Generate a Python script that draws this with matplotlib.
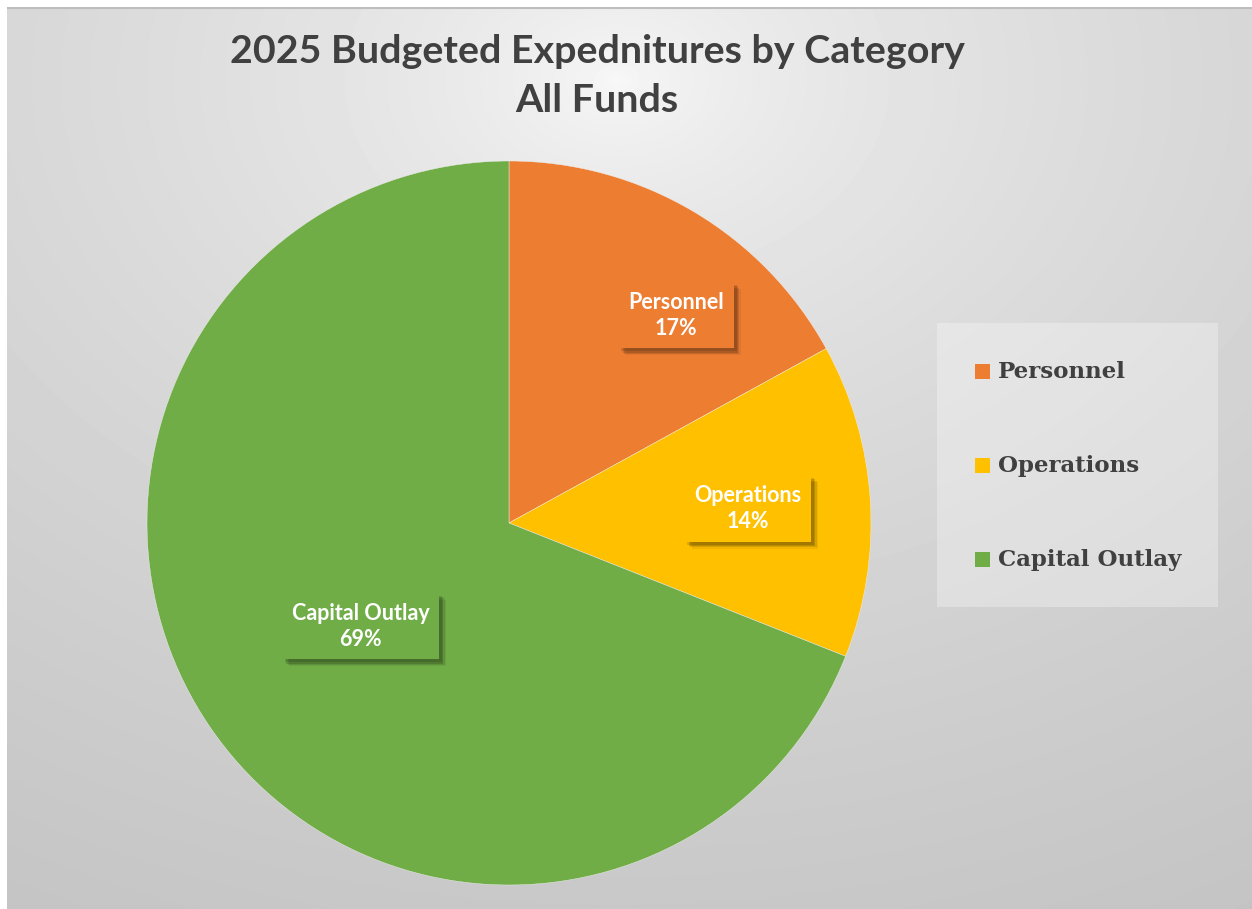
import matplotlib.pyplot as plt
import numpy as np
from matplotlib import patheffects
from matplotlib.patches import Rectangle

categories = ['Personnel', 'Operations', 'Capital Outlay']
shares = [17, 14, 69]
colors = ['#ED7D31', '#FFC000', '#70AD47']
title = '2025 Budgeted Expednitures by Category\nAll Funds'

# label centres in pie units (x, y), placed like the spreadsheet's best-fit
label_xy = [(0.462, 0.574), (0.66, 0.04), (-0.41, -0.285)]

W, H = 1252, 909
fig = plt.figure(figsize=(W / 100, H / 100), dpi=100, facecolor='white')

# soft radial backdrop
bg = fig.add_axes([7 / W, 0, 1 - 7 / W, 1 - 7 / H], zorder=0)
gx, gy = np.meshgrid(np.linspace(0, 1, 400), np.linspace(0, 1, 300))
r = np.sqrt((gx - 0.49) ** 2 + (gy - 0.08) ** 2)
shade = 0.975 - 0.2 * r ** 0.6
bg.imshow(shade, cmap='gray', vmin=0, vmax=1, extent=[0, 1, 1, 0], aspect='auto', interpolation='bilinear')
bg.plot([0, 1], [0.0015, 0.0015], color='#bdbdbd', lw=1.5)
bg.set_xlim(0, 1)
bg.set_ylim(1, 0)
bg.axis('off')

cx, cy, rad = 509, 523, 362
ax = fig.add_axes([(cx - rad) / W, (H - cy - rad) / H, 2 * rad / W, 2 * rad / H], zorder=1)
wedges, _ = ax.pie(shares, colors=colors, startangle=90, counterclock=False,
                   wedgeprops=dict(edgecolor='#f0f0f0', linewidth=0.3))
ax.set_xlim(-1, 1)
ax.set_ylim(-1, 1)
ax.set_aspect('auto')

# blurred drop shadow: stacked offsets with falling alpha
shadow = [patheffects.SimplePatchShadow(offset=(d, -d), shadow_rgbFace='black', alpha=a)
          for d, a in [(5, 0.06), (4, 0.1), (3, 0.14), (2, 0.12)]]

for name, val, col, (lx, ly) in zip(categories, shares, colors, label_xy):
    t = ax.text(lx, ly, f'{name}\n{val}%', ha='center', va='center', color='white',
                fontsize=15.5, fontweight='bold', family='Lato', linespacing=1.3,
                bbox=dict(boxstyle='square,pad=0.45', facecolor=col, edgecolor='none'))
    t.get_bbox_patch().set_path_effects(shadow + [patheffects.Normal()])

fig.text(597 / W, 1 - 76 / H, title, ha='center', va='center', fontsize=28.4,
         fontweight='bold', family='Lato', color='#404040', linespacing=1.45)

# legend panel
lg = fig.add_axes([0, 0, 1, 1], zorder=2)
lg.set_xlim(0, W)
lg.set_ylim(H, 0)
lg.axis('off')
lg.add_patch(Rectangle((937, 323), 281, 284, facecolor='white', alpha=0.3, edgecolor='none'))
for i, (name, col) in enumerate(zip(categories, colors)):
    y = 371 + i * 94
    lg.add_patch(Rectangle((975, y - 7), 15, 15, facecolor=col, edgecolor='none'))
    lg.text(998, y + 1, name, ha='left', va='center', fontsize=16.5, fontweight='bold',
            family='DejaVu Serif', color='#404040')

fig.savefig('out.png', dpi=100)
